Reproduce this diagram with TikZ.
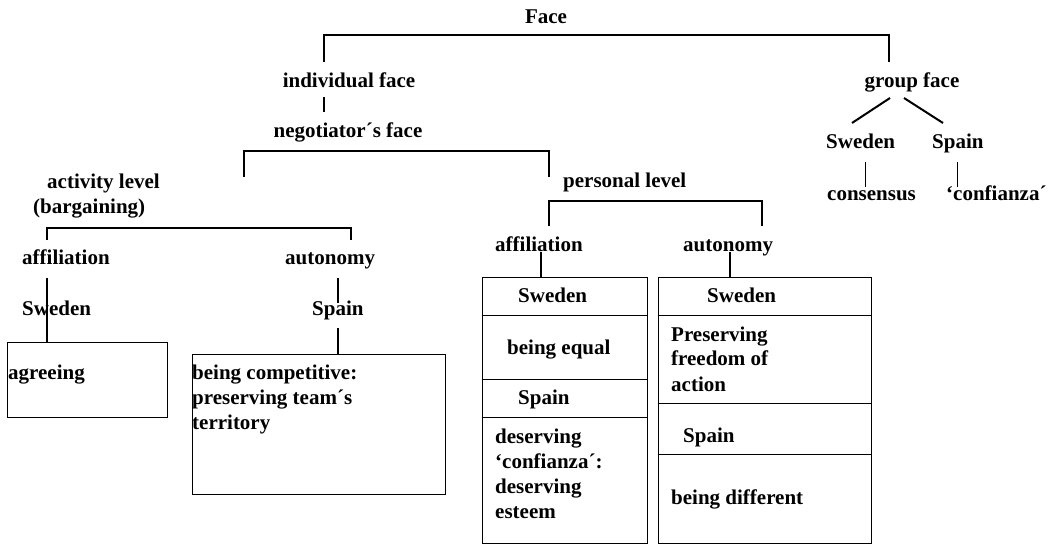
\documentclass[tikz,border=0pt]{standalone}
\usepackage{fontspec}
\setmainfont{Liberation Serif}
\begin{document}
\begin{tikzpicture}[x=1pt,y=-1pt,
  lbl/.style={inner sep=0pt, font=\fontsize{21}{25}\selectfont\bfseries, anchor=base west, align=left},
  lblc/.style={lbl, anchor=base},
  wire/.style={line width=1.1pt},
  thick wire/.style={line width=2pt},
  thin wire/.style={line width=0.6pt},
  cell/.style={draw, line width=1.1pt, inner sep=0pt, anchor=north west}]
\useasboundingbox (0,0) rectangle (1055,545);

% ---- labels of the tree (multi-line texts are placed by their last baseline) ----
\node[lblc] (face) at (546,24) {Face};
\node[lblc] (indface) at (349,88) {individual face};
\node[lblc] (negface) at (348,138) {negotiator´s face};
\node[lbl] (actlvl) at (33,214) {\hspace*{14pt}activity level\\(bargaining)};
\node[lbl] (perslvl) at (563,188) {personal level};
\node[lblc] (grpface) at (912,88) {group face};
\node[lbl] (gsweden) at (826,149) {Sweden};
\node[lbl] (gspain) at (932,149) {Spain};
\node[lbl] (consensus) at (827,201) {consensus};
\node[lbl] (gconf) at (946,201) {`confianza´};

% activity level branch
\node[lbl] (aff1) at (22,265) {affiliation};
\node[lbl] (aut1) at (285,265) {autonomy};
\node[lbl] (sw1) at (22,316) {Sweden};
\node[lbl] (sp1) at (312,316) {Spain};
\node[cell, minimum width=160pt, minimum height=75pt] (agreebox) at (7,342) {};
\node[lbl] (agreeing) at (8,379) {agreeing};
\node[cell, minimum width=253pt, minimum height=140pt] (compbox) at (192,354) {};
\node[lbl] (comp) at (192,429) {being competitive:\\preserving team´s\\territory};

% personal level branch
\node[lbl] (aff2) at (495,252) {affiliation};
\node[lbl] (aut2) at (683,252) {autonomy};

% affiliation stack
\node[cell, minimum width=165pt, minimum height=38pt] (a1) at (482,277) {};
\node[cell, minimum width=165pt, minimum height=64pt] (a2) at (482,315) {};
\node[cell, minimum width=165pt, minimum height=38pt] (a3) at (482,379) {};
\node[cell, minimum width=165pt, minimum height=126pt] (a4) at (482,417) {};
\node[lbl] (a1t) at (518,303) {Sweden};
\node[lbl] (a2t) at (507,354) {being equal};
\node[lbl] (a3t) at (518,404) {Spain};
\node[lbl] (a4t) at (495,518) {deserving\\`confianza´:\\deserving\\esteem};

% autonomy stack
\node[cell, minimum width=213pt, minimum height=38pt] (b1) at (658,277) {};
\node[cell, minimum width=213pt, minimum height=88pt] (b2) at (658,315) {};
\node[cell, minimum width=213pt, minimum height=51pt] (b3) at (658,403) {};
\node[cell, minimum width=213pt, minimum height=89pt] (b4) at (658,454) {};
\node[lbl] (b1t) at (707,303) {Sweden};
\node[lbl] (b2t) at (671,391) {Preserving\\freedom of\\action};
\node[lbl] (b3t) at (683,442) {Spain};
\node[lbl] (b4t) at (671,504) {being different};

% ---- connector end points ----
\coordinate (faceL) at (324,62);
\coordinate (faceR) at (889,62);
\coordinate (indDown) at (324,97);
\coordinate (negUp) at (324,112);
\coordinate (negL) at (244,177);
\coordinate (negR) at (549,177);
\coordinate (actL) at (47,240);
\coordinate (actR) at (351,240);
\coordinate (aff1Down) at (47,278);
\coordinate (aut1Down) at (338,278);
\coordinate (sp1Up) at (338,303);
\coordinate (sp1Down) at (338,328);
\coordinate (persL) at (549,226);
\coordinate (persR) at (762,226);
\coordinate (aff2Down) at (541,252);
\coordinate (aut2Down) at (730,252);
\coordinate (gfL) at (890,98);
\coordinate (gfR) at (904,98);
\coordinate (gswUp) at (852,123);
\coordinate (gspUp) at (943,123);
\coordinate (gswDown) at (865,162);
\coordinate (consUp) at (865,187);
\coordinate (gspDown) at (957,162);
\coordinate (confUp) at (957,187);

% ---- connectors ----
\draw[wire] (faceL) -- ++(0,-27) -| (faceR);
\draw[wire] (indDown) -- (negUp);
\draw[wire] (negL) -- ++(0,-26) -| (negR);
\draw[wire] (actL) -- ++(0,-12) -| (actR);
\draw[wire] (aff1Down) -- (aff1Down |- agreebox.north);
\draw[wire] (aut1Down) -- (sp1Up);
\draw[wire] (sp1Down) -- (sp1Down |- compbox.north);
\draw[wire] (persL) -- ++(0,-25) -| (persR);
\draw[wire] (aff2Down) -- (aff2Down |- a1.north);
\draw[wire] (aut2Down) -- (aut2Down |- b1.north);
\draw[thick wire] (gfL) -- (gswUp);
\draw[thick wire] (gfR) -- (gspUp);
\draw[thin wire] (gswDown) -- (consUp);
\draw[thin wire] (gspDown) -- (confUp);
\end{tikzpicture}
\end{document}
